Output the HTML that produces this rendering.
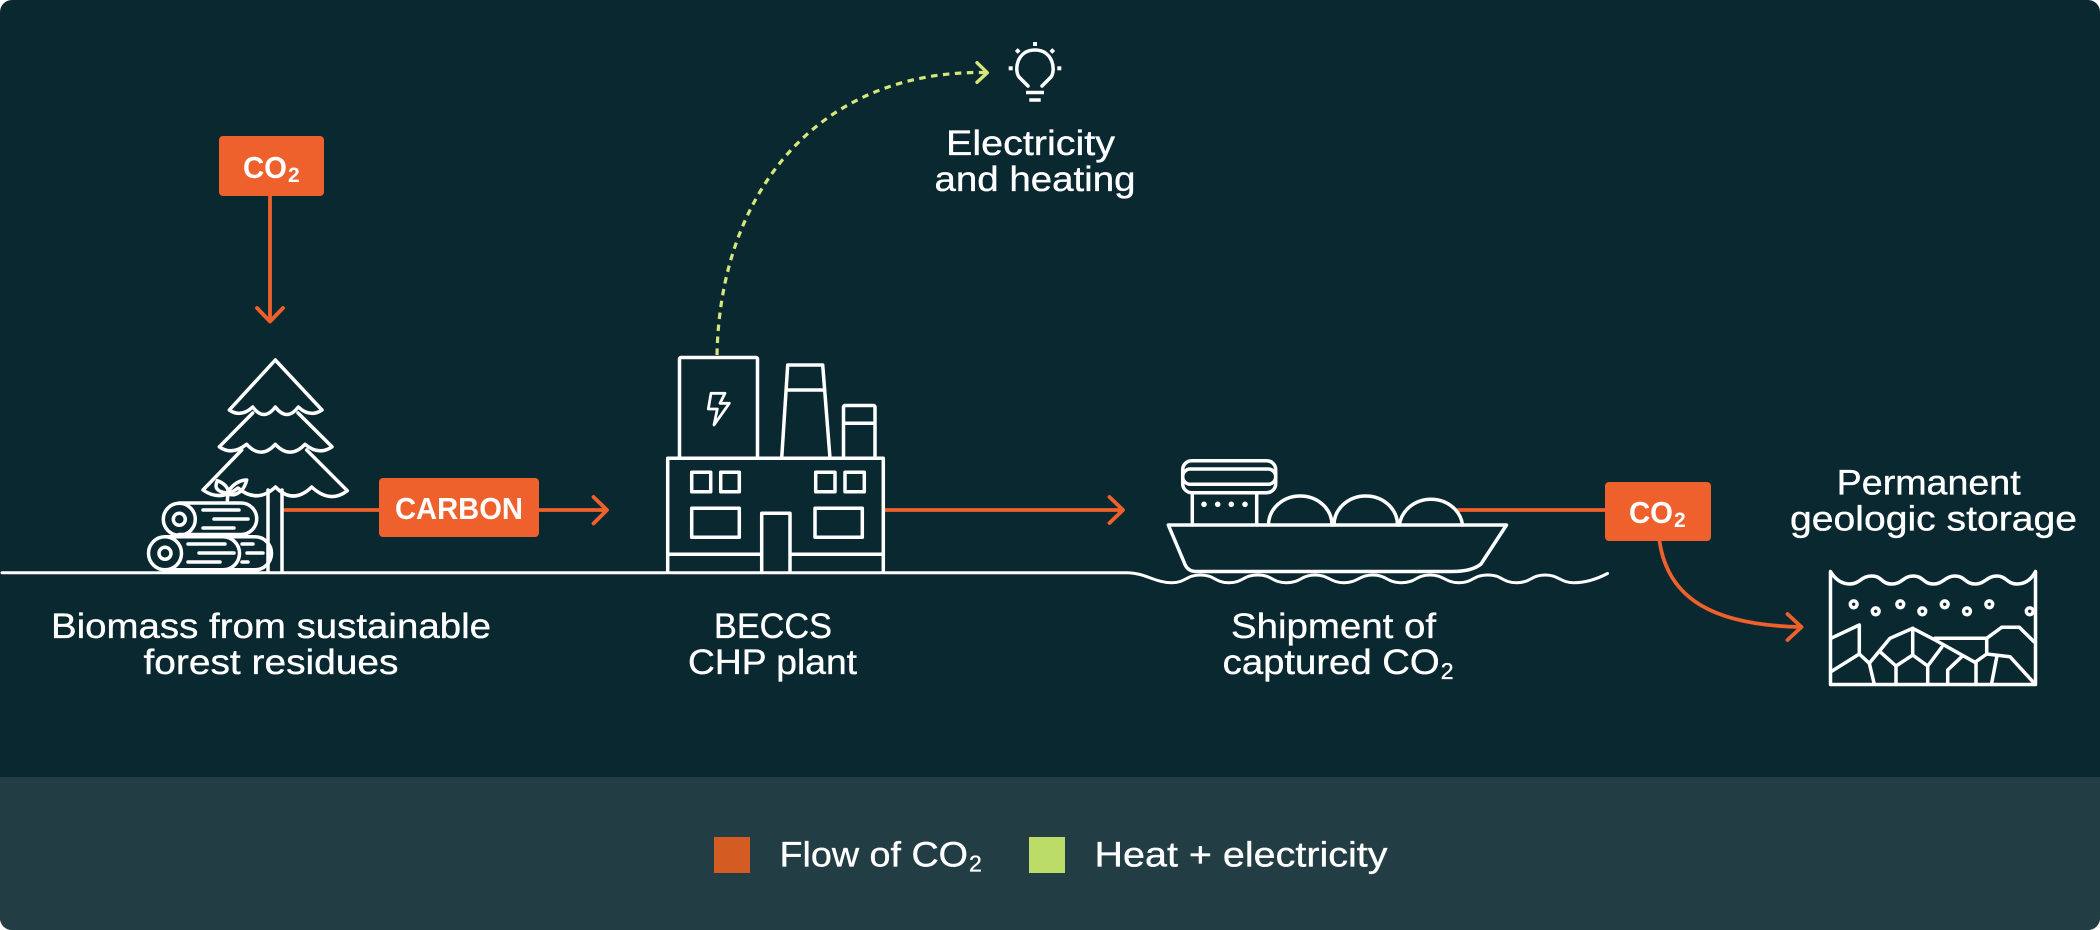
<!DOCTYPE html>
<html lang="en">
<head>
<meta charset="utf-8">
<title>BECCS diagram</title>
<style>
html,body{margin:0;padding:0;background:#fff;}
svg{display:block;}
text{font-family:"Liberation Sans",sans-serif;fill:#fff;}
.t{font-size:35px;stroke:#fff;stroke-width:.35px;}
.b{font-size:31px;font-weight:bold;}
.w{fill:none;stroke:#fff;stroke-width:3.5;stroke-linejoin:round;stroke-linecap:round;}
.o{fill:none;stroke:#ee602c;stroke-width:3.8;stroke-linejoin:round;stroke-linecap:round;}
</style>
</head>
<body>
<svg xmlns="http://www.w3.org/2000/svg" width="2100" height="930" viewBox="0 0 2100 930">
<defs><clipPath id="c"><rect width="2100" height="930" rx="12" ry="12"/></clipPath></defs>
<g clip-path="url(#c)">
<rect width="2100" height="930" fill="#0a2830"/>
<rect y="777" width="2100" height="153" fill="#233d44"/>
</g>

<!-- orange connectors -->
<path class="o" d="M270,196V321M257,308L270,321.5L283,308"/>
<path class="o" d="M285,510H380M539,510H606M593.5,497L607,510L593.5,523.5"/>
<path class="o" d="M885,510H1122M1109.5,497L1123,510L1109.5,523"/>
<path class="o" d="M1458,510H1606"/>
<path class="o" d="M1659.5,541C1668,600 1715,625 1800,627M1787.5,614L1801.5,627L1787.5,640"/>

<!-- green dashed -->
<path d="M717,355C720,190 820,70 985,72.5" fill="none" stroke="#d6e67c" stroke-width="3.2" stroke-dasharray="6.5 5.5"/>
<path d="M977,62.7L987.3,72.7L977,82.3" fill="none" stroke="#d6e67c" stroke-width="3.4" stroke-linejoin="round" stroke-linecap="round"/>

<!-- orange labels -->
<rect x="219" y="136" width="105" height="60" rx="4" fill="#ee602c"/>
<rect x="379" y="478" width="160" height="59" rx="4" fill="#ee602c"/>
<rect x="1605" y="482" width="106" height="59" rx="4" fill="#ee602c"/>
<text class="b" x="243" y="178"><tspan textLength="44" lengthAdjust="spacingAndGlyphs">CO</tspan><tspan font-size="21" dx="1" dy="4">2</tspan></text>
<text class="b" x="395" y="519" textLength="128" lengthAdjust="spacingAndGlyphs">CARBON</text>
<text class="b" x="1629" y="523"><tspan textLength="44" lengthAdjust="spacingAndGlyphs">CO</tspan><tspan font-size="21" dx="1" dy="4">2</tspan></text>

<!-- tree -->
<g class="w">
<path d="M275.3,360L229.3,410Q241,418 252.7,407Q264,422 275.3,407Q287,422 298.3,407Q310,418 322,410Z"/>
<path d="M252.7,413L219.3,446.8Q232,456 246.7,444.3Q261,460 275.3,444.3Q290,460 305,444.3Q319,456 332,446.8L298,413"/>
<path d="M241.7,450L203,490Q220,502 238,488Q257,504 275.5,487Q293,505 311.7,487Q330,504 347.3,490.7L306.7,450"/>
<path d="M268,490V572M282,490V572"/>
<path d="M227.3,501L228,493C217,492 214,488 217.3,480.7C224,483 229,488 228,493C231,497 243,495 246.7,480C238,480 230,487 228,493"/>
<circle cx="179.3" cy="519.3" r="16"/>
<circle cx="179.3" cy="519.3" r="6"/>
<path d="M179,503H241A15.7,15.7 0 0 1 241,534.5H179"/>
<path d="M203,510H239M214,519H248M203,528H234"/>
<circle cx="165" cy="553.3" r="16.5"/>
<circle cx="165" cy="553.3" r="6"/>
<path d="M165,536.8H223A16.5,16.5 0 0 1 223,569.8H165"/>
<path d="M225,536.8H255A16.5,16.5 0 0 1 255,569.8H225"/>
<path d="M188,544H225M199,553H234M188,562H220M242,544H253M247,553H263M242,562H248"/>
</g>

<!-- ground -->
<path d="M2,572.7H1128C1145,573 1155,582.7 1171.7,582.7C1186,582.7 1186,575 1200.4,575S1215,582.7 1229,582.7S1243,575 1257.8,575S1272,582.7 1286.5,582.7S1301,575 1315,575S1330,582.7 1344,582.7S1359,575 1372.8,575S1387,582.7 1401.5,582.7S1416,575 1430,575S1445,582.7 1459,582.7S1473,575 1487.8,575S1502,582.7 1516.5,582.7S1531,575 1545,575S1560,582.7 1574,582.7Q1590,582.7 1607.5,573.5" fill="none" stroke="#fff" stroke-width="3" stroke-linecap="round"/>

<!-- plant -->
<g class="w">
<path d="M679.5,458V359a1.5,1.5 0 0 1 1.5,-1.5H756a1.5,1.5 0 0 1 1.5,1.5V458"/>
<path d="M711,393.3H725L720,403.3H729.3L714,425L717.3,409H708.3Z" stroke-width="2.8"/>
<path d="M781.7,458L787.7,365H822.7L830,458M786.5,390H824.5"/>
<path d="M843.5,458V407a1.5,1.5 0 0 1 1.5,-1.5H873.5a1.5,1.5 0 0 1 1.5,1.5V458M843.5,423.3H875"/>
<path d="M667.7,572V458.3H883.3V572"/>
<rect x="691.7" y="472.3" width="19" height="19.4"/>
<rect x="720.7" y="472.3" width="18.6" height="19.4"/>
<rect x="815.7" y="472.3" width="19.3" height="19.4"/>
<rect x="845" y="472.3" width="19.3" height="19.4"/>
<rect x="691.7" y="508.3" width="47.6" height="29"/>
<rect x="815" y="508.3" width="47.3" height="29"/>
<path d="M761.7,572V513.3H790V572M667.7,554.3H761.7M790,554.3H883.3"/>
</g>

<!-- ship -->
<g class="w">
<rect x="1182.7" y="460.7" width="93" height="32" rx="9"/>
<rect x="1182.7" y="469" width="93" height="15.3" rx="7.6"/>
<path d="M1192.3,493V525M1256.7,493V525"/>
<path d="M1168.3,525H1506.5L1481,564C1475,569 1465,571.5 1452,571.5H1196Q1187,571.5 1184,562Z"/>
<path d="M1268.5,525A31.7,29 0 0 1 1332,525"/>
<path d="M1334,525A31.7,29 0 0 1 1397.5,525"/>
<path d="M1399.5,525A31.7,29 0 0 1 1462.5,525"/>
</g>
<g fill="#fff">
<circle cx="1204" cy="504.3" r="2.8"/><circle cx="1217.7" cy="504.3" r="2.8"/><circle cx="1231.3" cy="504.3" r="2.8"/><circle cx="1245" cy="504.3" r="2.8"/>
</g>

<!-- storage -->
<g class="w">
<path d="M1830.5,684V571.5Q1838,584 1850,584C1860,584 1861,576 1871.7,576S1881,584 1891.7,584S1903,576 1913.3,576S1923,584 1933.3,584S1945,576 1955,576S1965,584 1975,584S1987,576 1996.7,576S2007,584 2016.7,584Q2029,584 2035.5,571.5V684.5H1830.5"/>
<circle cx="1853.7" cy="604.3" r="3.4"/><circle cx="1875.7" cy="611.3" r="3.4"/><circle cx="1900.3" cy="604.3" r="3.4"/><circle cx="1922.3" cy="611.3" r="3.4"/><circle cx="1944.7" cy="604.3" r="3.4"/><circle cx="1967" cy="611.3" r="3.4"/><circle cx="1989.3" cy="604.3" r="3.4"/><circle cx="2029.7" cy="611.3" r="3.4"/>
<path d="M1831,638.3L1859.3,625V654L1831,671.7"/>
<path d="M1859.3,654L1869.3,663.3L1874,683"/>
<path d="M1869.3,663.3L1890,638.3L1912.7,628.3L1935,640L1975,662.3L1986.7,654L2010,656.7L2034,683"/>
<path d="M1912.7,628.3V655L1896,666V683M1880,651.7L1896,666"/>
<path d="M1912.7,655L1927.7,666V683M1927.7,666L1941.7,647.3"/>
<path d="M1961.7,656.7L1947.7,670V683"/>
<path d="M1976,662.3V683"/>
<path d="M1996.7,657.3L1991.7,683"/>
<path d="M1935,638.3H1986.7V654M1986.7,638.3L2001.7,627.3H2019.3L2034,641.7"/>
</g>

<!-- bulb -->
<g class="w">
<path d="M1028,86L1024,82L1019,77C1014,70 1016.7,50 1035,50C1053,50 1056,70 1051,77L1046,82L1042,86"/>
</g>
<path d="M1026,92.5H1044M1029.3,100H1040.7" stroke="#fff" stroke-width="3.4" fill="none"/>
<g fill="#fff">
<rect x="1033" y="42" width="4" height="4"/>
<rect x="1015.7" y="49" width="4" height="4" transform="rotate(45 1017.7 51)"/>
<rect x="1050.3" y="49" width="4" height="4" transform="rotate(45 1052.3 51)"/>
<rect x="1008.7" y="66.3" width="4" height="4"/>
<rect x="1057.3" y="66.3" width="4" height="4"/>
</g>

<!-- text -->
<text class="t" x="946" y="155" textLength="169" lengthAdjust="spacingAndGlyphs">Electricity</text>
<text class="t" x="934.5" y="191" textLength="201" lengthAdjust="spacingAndGlyphs">and heating</text>
<text class="t" x="51" y="638" textLength="440" lengthAdjust="spacingAndGlyphs">Biomass from sustainable</text>
<text class="t" x="143.5" y="674" textLength="255" lengthAdjust="spacingAndGlyphs">forest residues</text>
<text class="t" x="714" y="638" textLength="118" lengthAdjust="spacingAndGlyphs">BECCS</text>
<text class="t" x="688" y="674" textLength="169" lengthAdjust="spacingAndGlyphs">CHP plant</text>
<text class="t" x="1231" y="638" textLength="205" lengthAdjust="spacingAndGlyphs">Shipment of</text>
<text class="t" x="1222.7" y="674"><tspan textLength="217" lengthAdjust="spacingAndGlyphs">captured CO</tspan><tspan font-size="23" dx="1" dy="5">2</tspan></text>
<text class="t" x="1836.7" y="494.5" textLength="184" lengthAdjust="spacingAndGlyphs">Permanent</text>
<text class="t" x="1790" y="530.5" textLength="287" lengthAdjust="spacingAndGlyphs">geologic storage</text>

<!-- legend -->
<rect x="714" y="837" width="36" height="36" fill="#d45c22"/>
<rect x="1029" y="837" width="36" height="36" fill="#bcdc68"/>
<text class="t" x="779.5" y="866.5"><tspan textLength="188.5" lengthAdjust="spacingAndGlyphs">Flow of CO</tspan><tspan font-size="23" dx="1" dy="5">2</tspan></text>
<text class="t" x="1094.5" y="866.5" textLength="293" lengthAdjust="spacingAndGlyphs">Heat + electricity</text>
</svg>
</body>
</html>
